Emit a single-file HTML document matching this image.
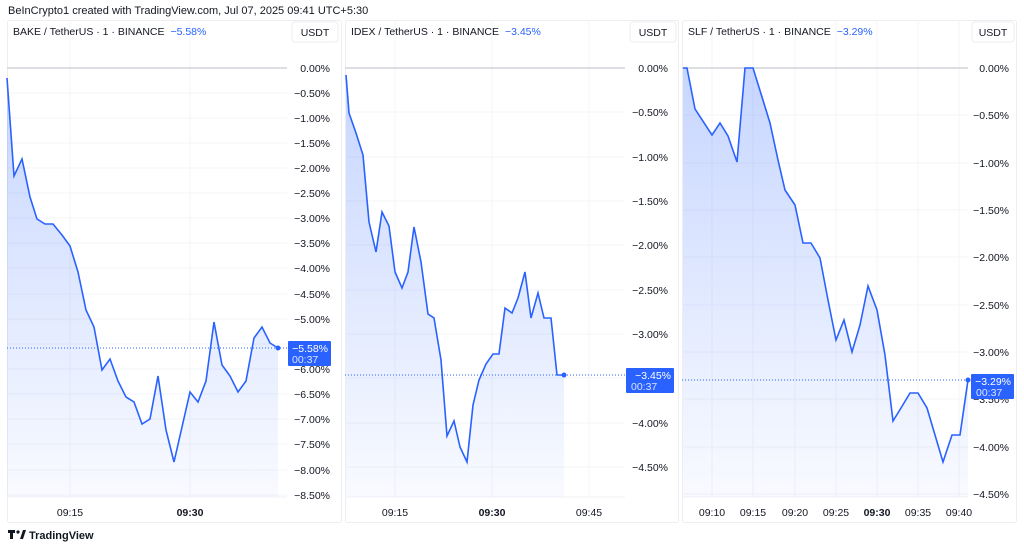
<!DOCTYPE html>
<html><head><meta charset="utf-8"><style>
body{margin:0;background:#fff;width:1024px;height:548px;overflow:hidden;font-family:"Liberation Sans",sans-serif}
</style></head><body>
<svg width="1024" height="548" xmlns="http://www.w3.org/2000/svg" font-family="Liberation Sans, sans-serif">
<defs>
<linearGradient id="g" x1="0" y1="0" x2="0" y2="1"><stop offset="0" stop-color="#2962ff" stop-opacity="0.26"/><stop offset="1" stop-color="#2962ff" stop-opacity="0.03"/></linearGradient>
</defs>
<text x="8" y="14" font-size="11" fill="#131722">BeInCrypto1 created with TradingView.com, Jul 07, 2025 09:41 UTC+5:30</text>

<g fill="none" stroke="#eceef2">
<rect x="7.5" y="20.5" width="334" height="502" rx="2"/>
<rect x="345.5" y="20.5" width="333" height="502" rx="2"/>
<rect x="682.5" y="20.5" width="334" height="502" rx="2"/>
</g>
<g stroke="#f0f1f4" stroke-width="1">
<line x1="7" y1="497" x2="287" y2="497"/><line x1="345" y1="497" x2="625" y2="497"/><line x1="682" y1="497" x2="968" y2="497"/>
</g>

<!-- Panel 1 grid -->
<g stroke="#f3f4f7">
<line x1="7" x2="287" y1="93" y2="93"/><line x1="7" x2="287" y1="118" y2="118"/><line x1="7" x2="287" y1="143" y2="143"/><line x1="7" x2="287" y1="168" y2="168"/><line x1="7" x2="287" y1="193" y2="193"/><line x1="7" x2="287" y1="218" y2="218"/><line x1="7" x2="287" y1="243" y2="243"/><line x1="7" x2="287" y1="268" y2="268"/><line x1="7" x2="287" y1="294" y2="294"/><line x1="7" x2="287" y1="319" y2="319"/><line x1="7" x2="287" y1="344" y2="344"/><line x1="7" x2="287" y1="369" y2="369"/><line x1="7" x2="287" y1="394" y2="394"/><line x1="7" x2="287" y1="419" y2="419"/><line x1="7" x2="287" y1="444" y2="444"/><line x1="7" x2="287" y1="470" y2="470"/><line x1="7" x2="287" y1="495" y2="495"/>
<line x1="70" x2="70" y1="20" y2="497"/><line x1="190" x2="190" y1="20" y2="497"/>
</g>
<line x1="7" x2="287" y1="68" y2="68" stroke="#c8cad0" stroke-width="1.2"/>
<polygon fill="url(#g)" points="7,78 14,176 22,159 30,197 37,219 45,224 53,224 62,235 70,246 78,272 86,310 94,327 102,370 110,359 118,381 126,397 134,402 142,424 150,419 158,376 166,430 174,462 182,427 190,392 198,402 206,381 214,322 222,365 230,376 238,392 246,381 254,338 262,327 270,343 278,348 278,497 7,497"/>
<polyline fill="none" stroke="#2962ff" stroke-width="1.6" points="7,78 14,176 22,159 30,197 37,219 45,224 53,224 62,235 70,246 78,272 86,310 94,327 102,370 110,359 118,381 126,397 134,402 142,424 150,419 158,376 166,430 174,462 182,427 190,392 198,402 206,381 214,322 222,365 230,376 238,392 246,381 254,338 262,327 270,343 278,348"/>
<line x1="7" x2="287" y1="348" y2="348" stroke="#2962ff" stroke-dasharray="1,2"/>
<circle cx="278" cy="348" r="2.5" fill="#2962ff"/>
<g font-size="10.5" fill="#131722" text-anchor="end">
<text x="330" y="72">0.00%</text><text x="330" y="97">−0.50%</text><text x="330" y="122">−1.00%</text><text x="330" y="147">−1.50%</text><text x="330" y="172">−2.00%</text><text x="330" y="197">−2.50%</text><text x="330" y="222">−3.00%</text><text x="330" y="247">−3.50%</text><text x="330" y="272">−4.00%</text><text x="330" y="298">−4.50%</text><text x="330" y="323">−5.00%</text><text x="330" y="373">−6.00%</text><text x="330" y="398">−6.50%</text><text x="330" y="423">−7.00%</text><text x="330" y="448">−7.50%</text><text x="330" y="474">−8.00%</text><text x="330" y="499">−8.50%</text>
</g>
<rect x="288" y="341" width="43" height="25" fill="#2962ff" rx="1"/>
<text x="328" y="352" font-size="10.5" fill="#fff" text-anchor="end">−5.58%</text>
<text x="292" y="363" font-size="10.5" fill="#dbe3ff">00:37</text>
<g font-size="10.5" fill="#131722" text-anchor="middle"><text x="70" y="516">09:15</text><text x="190" y="516" font-weight="bold">09:30</text></g>
<text x="13" y="35" font-size="10.5" fill="#131722">BAKE / TetherUS · 1 · BINANCE <tspan fill="#2962ff" dx="3">−5.58%</tspan></text>
<rect x="292" y="22" width="46" height="20" rx="3" fill="#fff" stroke="#eceef2"/>
<text x="315" y="36" font-size="10.5" fill="#131722" text-anchor="middle">USDT</text>

<!-- Panel 2 -->
<g stroke="#f3f4f7">
<line x1="345" x2="625" y1="112" y2="112"/><line x1="345" x2="625" y1="157" y2="157"/><line x1="345" x2="625" y1="201" y2="201"/><line x1="345" x2="625" y1="245" y2="245"/><line x1="345" x2="625" y1="290" y2="290"/><line x1="345" x2="625" y1="334" y2="334"/><line x1="345" x2="625" y1="378" y2="378"/><line x1="345" x2="625" y1="423" y2="423"/><line x1="345" x2="625" y1="467" y2="467"/>
<line x1="395" x2="395" y1="20" y2="497"/><line x1="492" x2="492" y1="20" y2="497"/><line x1="589" x2="589" y1="20" y2="497"/>
</g>
<line x1="345" x2="625" y1="68" y2="68" stroke="#c8cad0" stroke-width="1.2"/>
<polygon fill="url(#g)" points="346,75 349,113 356,133 363,155 369,222 376,252 382,212 389,226 395,272 402,288 408,272 414,227 421,262 428,314 434,318 441,360 447,436 454,421 460,447 467,462 473,405 479,380 486,364 493,354 499,354 505,308 512,313 518,298 525,272 531,318 538,293 544,318 551,318 557,375 564,375 564,497 346,497"/>
<polyline fill="none" stroke="#2962ff" stroke-width="1.6" points="346,75 349,113 356,133 363,155 369,222 376,252 382,212 389,226 395,272 402,288 408,272 414,227 421,262 428,314 434,318 441,360 447,436 454,421 460,447 467,462 473,405 479,380 486,364 493,354 499,354 505,308 512,313 518,298 525,272 531,318 538,293 544,318 551,318 557,375 564,375"/>
<line x1="345" x2="625" y1="375" y2="375" stroke="#2962ff" stroke-dasharray="1,2"/>
<circle cx="564" cy="375" r="2.5" fill="#2962ff"/>
<g font-size="10.5" fill="#131722" text-anchor="end">
<text x="668" y="72">0.00%</text><text x="668" y="116">−0.50%</text><text x="668" y="161">−1.00%</text><text x="668" y="205">−1.50%</text><text x="668" y="249">−2.00%</text><text x="668" y="294">−2.50%</text><text x="668" y="338">−3.00%</text><text x="668" y="427">−4.00%</text><text x="668" y="471">−4.50%</text>
</g>
<rect x="626" y="368" width="48" height="25" fill="#2962ff" rx="1"/>
<text x="671" y="379" font-size="10.5" fill="#fff" text-anchor="end">−3.45%</text>
<text x="631" y="390" font-size="10.5" fill="#dbe3ff">00:37</text>
<g font-size="10.5" fill="#131722" text-anchor="middle"><text x="395" y="516">09:15</text><text x="492" y="516" font-weight="bold">09:30</text><text x="589" y="516">09:45</text></g>
<text x="351" y="35" font-size="10.5" fill="#131722">IDEX / TetherUS · 1 · BINANCE <tspan fill="#2962ff" dx="3">−3.45%</tspan></text>
<rect x="630" y="22" width="46" height="20" rx="3" fill="#fff" stroke="#eceef2"/>
<text x="653" y="36" font-size="10.5" fill="#131722" text-anchor="middle">USDT</text>

<!-- Panel 3 -->
<g stroke="#f3f4f7">
<line x1="682" x2="968" y1="115" y2="115"/><line x1="682" x2="968" y1="163" y2="163"/><line x1="682" x2="968" y1="210" y2="210"/><line x1="682" x2="968" y1="257" y2="257"/><line x1="682" x2="968" y1="305" y2="305"/><line x1="682" x2="968" y1="352" y2="352"/><line x1="682" x2="968" y1="399" y2="399"/><line x1="682" x2="968" y1="447" y2="447"/><line x1="682" x2="968" y1="494" y2="494"/>
<line x1="712" x2="712" y1="20" y2="497"/><line x1="753" x2="753" y1="20" y2="497"/><line x1="795" x2="795" y1="20" y2="497"/><line x1="836" x2="836" y1="20" y2="497"/><line x1="877" x2="877" y1="20" y2="497"/><line x1="918" x2="918" y1="20" y2="497"/><line x1="959" x2="959" y1="20" y2="497"/>
</g>
<line x1="682" x2="968" y1="68" y2="68" stroke="#c8cad0" stroke-width="1.2"/>
<polygon fill="url(#g)" points="683,68 687,68 695,109 712,135 720,123 728,136 737,162 745,68 753,68 762,97 770,123 778,160 785,190 795,205 803,243 811,243 820,258 828,300 836,340 844,320 852,352 860,325 868,286 877,310 885,355 893,421 901,408 910,393 918,393 927,408 935,435 943,462 952,435 960,435 968,380 968,497 683,497"/>
<polyline fill="none" stroke="#2962ff" stroke-width="1.6" points="683,68 687,68 695,109 712,135 720,123 728,136 737,162 745,68 753,68 762,97 770,123 778,160 785,190 795,205 803,243 811,243 820,258 828,300 836,340 844,320 852,352 860,325 868,286 877,310 885,355 893,421 901,408 910,393 918,393 927,408 935,435 943,462 952,435 960,435 968,380"/>
<line x1="682" x2="968" y1="380" y2="380" stroke="#2962ff" stroke-dasharray="1,2"/>
<circle cx="968" cy="380" r="2.5" fill="#2962ff"/>
<g font-size="10.5" fill="#131722" text-anchor="end">
<text x="1009" y="72">0.00%</text><text x="1009" y="119">−0.50%</text><text x="1009" y="167">−1.00%</text><text x="1009" y="214">−1.50%</text><text x="1009" y="261">−2.00%</text><text x="1009" y="309">−2.50%</text><text x="1009" y="356">−3.00%</text><text x="1009" y="403">−3.50%</text><text x="1009" y="451">−4.00%</text><text x="1009" y="498">−4.50%</text>
</g>
<rect x="971" y="374" width="43" height="25" fill="#2962ff" rx="1"/>
<text x="1011" y="385" font-size="10.5" fill="#fff" text-anchor="end">−3.29%</text>
<text x="976" y="396" font-size="10.5" fill="#dbe3ff">00:37</text>
<g font-size="10.5" fill="#131722" text-anchor="middle"><text x="712" y="516">09:10</text><text x="753" y="516">09:15</text><text x="795" y="516">09:20</text><text x="836" y="516">09:25</text><text x="877" y="516" font-weight="bold">09:30</text><text x="918" y="516">09:35</text><text x="959" y="516">09:40</text></g>
<text x="688" y="35" font-size="10.5" fill="#131722">SLF / TetherUS · 1 · BINANCE <tspan fill="#2962ff" dx="3">−3.29%</tspan></text>
<rect x="972" y="22" width="42" height="20" rx="3" fill="#fff" stroke="#eceef2"/>
<text x="993" y="36" font-size="10.5" fill="#131722" text-anchor="middle">USDT</text>

<g fill="#131722"><rect x="8" y="530" width="7" height="3"/><rect x="10" y="533" width="3" height="6"/><circle cx="18" cy="532" r="1.6"/><polygon points="20,539 23,530 26,530 23,539"/></g>
<text x="29" y="539" font-size="11" font-weight="bold" fill="#131722">TradingView</text>
</svg>
</body></html>
